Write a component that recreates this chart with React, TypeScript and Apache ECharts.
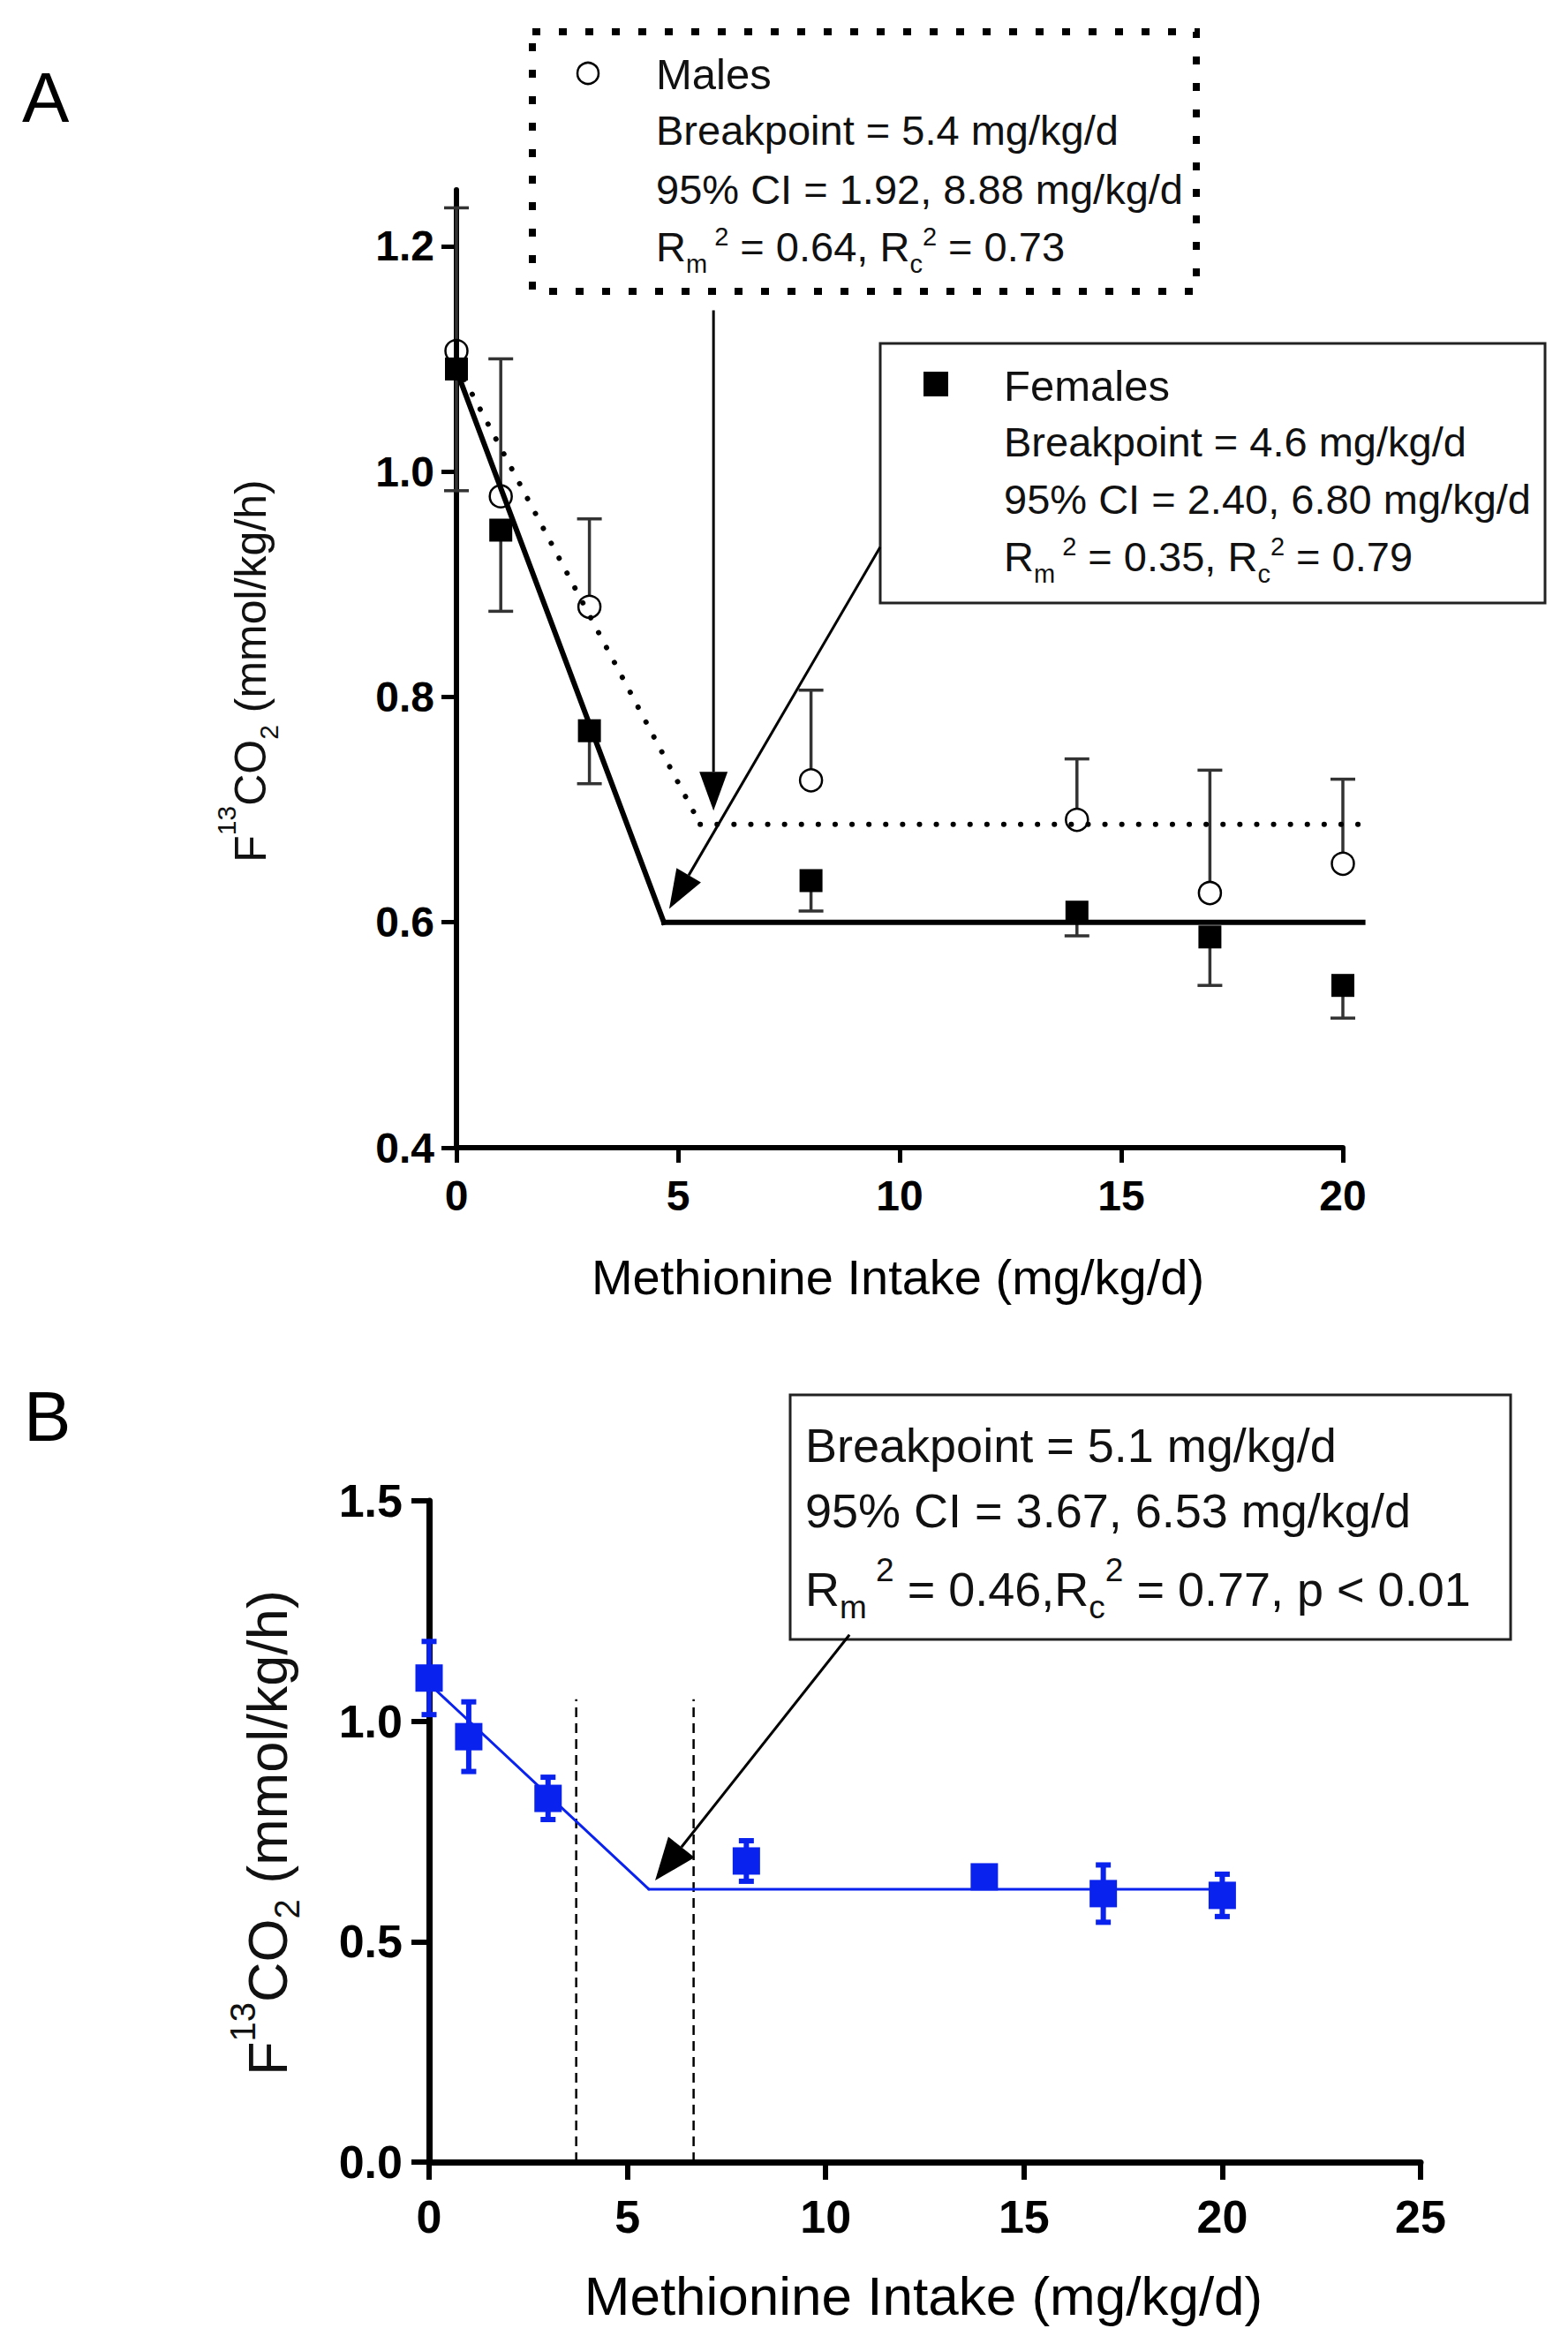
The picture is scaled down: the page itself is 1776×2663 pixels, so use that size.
import { useEffect, useRef } from 'react';
import * as echarts from 'echarts';

const FONT = '"Liberation Sans", Arial, Helvetica, sans-serif';
const INK = '#000';
const BLUE = '#0a22ee';

// ---- panel A: males vs females ----
const intake = [0, 1, 3, 8, 14, 17, 20];
const maleMean = [1.107, 0.978, 0.88, 0.726, 0.691, 0.626, 0.652];
const maleUpper = [1.234, 1.1, 0.958, 0.806, 0.745, 0.735, 0.727];
const femaleMean = [1.091, 0.948, 0.77, 0.637, 0.609, 0.587, 0.544];
const femaleLower = [0.983, 0.876, 0.723, 0.61, 0.588, 0.544, 0.515];
const maleFit = [[0, 1.095], [5.5, 0.687], [20.45, 0.687]];
const femaleFit = [[0, 1.09], [4.68, 0.6], [20.45, 0.6]];
const maleArrow = [5.8, 1.143, 5.8, 0.699];
const femaleArrow = [9.56, 0.933, 4.8, 0.612];
const yTicksA = [0.4, 0.6, 0.8, 1.0, 1.2];

// ---- panel B: pooled ----
const pooledMean = [1.098, 0.965, 0.825, 0.683, 0.647, 0.609, 0.605];
const pooledErr = [0.083, 0.079, 0.048, 0.046, 0.012, 0.065, 0.048];
const pooledFit = [[0, 1.085], [5.54, 0.619], [20, 0.619]];
const ciLimits = [3.71, 6.67];
const ciTop = 1.05;
const pooledArrow = [10.6, 1.196, 5.7, 0.639];

// box texts
const maleStats = ['Breakpoint = 5.4 mg/kg/d', '95% CI = 1.92, 8.88 mg/kg/d', ['0.64', '0.73']];
const femaleStats = ['Breakpoint = 4.6 mg/kg/d', '95% CI = 2.40, 6.80 mg/kg/d', ['0.35', '0.79']];
const pooledStats = ['Breakpoint = 5.1 mg/kg/d', '95% CI = 3.67, 6.53 mg/kg/d'];

// consecutive points -> [x1, y1, x2, y2] segments
const toSegments = (pts: number[][]) => pts.slice(1).map((p, i) => [pts[i][0], pts[i][1], p[0], p[1]]);

// vertical error bar, optional gap (px) at the mean end
function errorBars(color: string, width: number, capWidth: number, gap: number, bothCaps: boolean) {
  return (_p: any, api: any) => {
    const x = api.value(0);
    const from = api.coord([x, api.value(1)]);
    const to = api.coord([x, api.value(2)]);
    const dir = to[1] > from[1] ? 1 : -1;
    const style = { stroke: color, lineWidth: width };
    const children: any[] = [
      { type: 'line', shape: { x1: from[0], y1: from[1] + dir * gap, x2: to[0], y2: to[1] }, style },
      { type: 'line', shape: { x1: to[0] - capWidth / 2, y1: to[1], x2: to[0] + capWidth / 2, y2: to[1] }, style },
    ];
    if (bothCaps) {
      children.push({
        type: 'line',
        shape: { x1: from[0] - capWidth / 2, y1: from[1], x2: from[0] + capWidth / 2, y2: from[1] },
        style,
      });
    }
    return { type: 'group', children };
  };
}

// fit line segment (not clipped at the axis end)
function segment(style: any) {
  return (_p: any, api: any) => {
    const a = api.coord([api.value(0), api.value(1)]);
    const b = api.coord([api.value(2), api.value(3)]);
    return { type: 'line', shape: { x1: a[0], y1: a[1], x2: b[0], y2: b[1] }, style };
  };
}

function arrow(width: number, headLength: number, headWidth: number) {
  return (_p: any, api: any) => {
    const a = api.coord([api.value(0), api.value(1)]);
    const b = api.coord([api.value(2), api.value(3)]);
    const len = Math.hypot(b[0] - a[0], b[1] - a[1]);
    const ux = (b[0] - a[0]) / len;
    const uy = (b[1] - a[1]) / len;
    const bx = b[0] - ux * headLength;
    const by = b[1] - uy * headLength;
    const nx = (-uy * headWidth) / 2;
    const ny = (ux * headWidth) / 2;
    return {
      type: 'group',
      children: [
        { type: 'line', shape: { x1: a[0], y1: a[1], x2: bx, y2: by }, style: { stroke: INK, lineWidth: width } },
        {
          type: 'polygon',
          shape: { points: [[b[0], b[1]], [bx + nx, by + ny], [bx - nx, by - ny]] },
          style: { fill: INK },
        },
      ],
    };
  };
}

function dashedVLine(_p: any, api: any) {
  const a = api.coord([api.value(0), api.value(1)]);
  const b = api.coord([api.value(0), api.value(2)]);
  return {
    type: 'line',
    shape: { x1: a[0], y1: a[1], x2: b[0], y2: b[1] },
    style: { stroke: INK, lineWidth: 2.5, lineDash: [11, 7] },
  };
}

function text(x: number, y: number, str: string, fontSize: number, extra: any = {}) {
  return {
    type: 'text',
    x,
    y,
    silent: true,
    style: {
      text: str,
      fill: '#111',
      fontSize,
      fontFamily: FONT,
      align: 'left',
      verticalAlign: 'middle',
      ...extra,
    },
  };
}

// "Rm² = a, Rc² = b" with sub/superscripts
function rText(x: number, y: number, body: string, fs: number, sfs: number, L: number, hSup: number, hSub: number) {
  return {
    type: 'text',
    x,
    y,
    silent: true,
    style: {
      text: body,
      fill: '#111',
      fontSize: fs,
      fontFamily: FONT,
      align: 'left',
      verticalAlign: 'middle',
      rich: {
        n: { fontSize: fs, fontFamily: FONT, fill: '#111', lineHeight: L, verticalAlign: 'middle' },
        sup: { fontSize: sfs, fontFamily: FONT, fill: '#111', height: hSup, verticalAlign: 'top' },
        sub: { fontSize: sfs, fontFamily: FONT, fill: '#111', height: hSub, verticalAlign: 'bottom' },
      },
    },
  };
}

function yTitle(x: number, y: number, fs: number, sfs: number, L: number, hSup: number, hSub: number) {
  const t: any = rText(x, y, '{n|F}{sup|13}{n|CO}{sub|2}{n| (mmol/kg/h)}', fs, sfs, L, hSup, hSub);
  t.rotation = Math.PI / 2;
  t.style.align = 'center';
  return t;
}

const axisCommon = (lw: number, tickLen: number, tickW: number, fs: number, margin: number) => ({
  axisLine: { show: true, onZero: false, lineStyle: { color: INK, width: lw } },
  axisTick: { show: true, length: tickLen, lineStyle: { color: INK, width: tickW } },
  axisLabel: { color: INK, fontSize: fs, fontWeight: 'bold', fontFamily: FONT, margin },
  splitLine: { show: false },
});

export default function App() {
  const ref = useRef<HTMLDivElement>(null);

  useEffect(() => {
    document.body.style.margin = '0';
    if (!ref.current) return;
    const chart = echarts.init(ref.current, null, { renderer: 'svg' });

    const axA = axisCommon(6, 17, 5, 48, 28);
    const axB = axisCommon(7, 20, 6, 52, 34);

    const option: any = {
      animation: false,
      backgroundColor: '#fff',
      grid: [
        { left: 517, top: 215, width: 1004, height: 1085, outerBoundsMode: 'none' },
        { left: 486, top: 1700, width: 1123, height: 749, outerBoundsMode: 'none' },
      ],
      xAxis: [
        {
          type: 'value', gridIndex: 0, min: 0, max: 20, interval: 5, ...axA,
          axisLabel: { ...axA.axisLabel, margin: 30 },
        },
        {
          type: 'value', gridIndex: 1, min: 0, max: 25, interval: 5, ...axB,
          axisLabel: { ...axB.axisLabel, margin: 36 },
        },
      ],
      yAxis: [
        {
          type: 'value', gridIndex: 0, min: 0.4, max: 1.25, ...axA,
          axisTick: { ...axA.axisTick, customValues: yTicksA },
          axisLabel: { ...axA.axisLabel, margin: 25, customValues: yTicksA, formatter: (v: number) => v.toFixed(1) },
        },
        {
          type: 'value', gridIndex: 1, min: 0, max: 1.5, interval: 0.5, ...axB,
          axisLabel: { ...axB.axisLabel, margin: 30, formatter: (v: number) => v.toFixed(1) },
        },
      ],
      series: [
        // ---- panel A ----
        {
          type: 'custom', xAxisIndex: 0, yAxisIndex: 0, z: 2, clip: false,
          renderItem: errorBars('#333', 3.5, 28, 13, false),
          encode: { x: 0, y: [1, 2] },
          data: intake.map((x, i) => [x, maleMean[i], maleUpper[i]]),
        },
        {
          type: 'custom', xAxisIndex: 0, yAxisIndex: 0, z: 2, clip: false,
          renderItem: errorBars('#333', 3.5, 28, 0, false),
          encode: { x: 0, y: [1, 2] },
          data: intake.map((x, i) => [x, femaleMean[i], femaleLower[i]]),
        },
        {
          type: 'custom', xAxisIndex: 0, yAxisIndex: 0, z: 3, clip: false,
          renderItem: segment({ stroke: INK, lineWidth: 6, lineDash: [0.1, 19], lineCap: 'round' }),
          encode: { x: [0, 2], y: [1, 3] },
          data: toSegments(maleFit),
        },
        {
          type: 'custom', xAxisIndex: 0, yAxisIndex: 0, z: 3, clip: false,
          renderItem: segment({ stroke: INK, lineWidth: 6, lineCap: 'square' }),
          encode: { x: [0, 2], y: [1, 3] },
          data: toSegments(femaleFit),
        },
        {
          type: 'scatter', xAxisIndex: 0, yAxisIndex: 0, z: 4, silent: true,
          symbol: 'circle', symbolSize: 25,
          itemStyle: { color: 'rgba(0,0,0,0)', borderColor: INK, borderWidth: 2.5, opacity: 1 },
          data: intake.map((x, i) => [x, maleMean[i]]),
        },
        {
          type: 'scatter', xAxisIndex: 0, yAxisIndex: 0, z: 4, silent: true,
          symbol: 'rect', symbolSize: 26,
          itemStyle: { color: INK, opacity: 1 },
          data: intake.map((x, i) => [x, femaleMean[i]]),
        },
        {
          type: 'custom', xAxisIndex: 0, yAxisIndex: 0, z: 5, clip: false,
          renderItem: arrow(3, 44, 32),
          encode: { x: [0, 2], y: [1, 3] },
          data: [maleArrow, femaleArrow],
        },
        // ---- panel B ----
        {
          type: 'custom', xAxisIndex: 1, yAxisIndex: 1, z: 2, clip: false,
          renderItem: dashedVLine,
          encode: { x: 0, y: [1, 2] },
          data: ciLimits.map((x) => [x, 0, ciTop]),
        },
        {
          type: 'custom', xAxisIndex: 1, yAxisIndex: 1, z: 3, clip: false,
          renderItem: segment({ stroke: BLUE, lineWidth: 3, lineCap: 'round' }),
          encode: { x: [0, 2], y: [1, 3] },
          data: toSegments(pooledFit),
        },
        {
          type: 'custom', xAxisIndex: 1, yAxisIndex: 1, z: 3, clip: false,
          renderItem: errorBars(BLUE, 6, 17, 0, true),
          encode: { x: 0, y: [1, 2] },
          data: intake.map((x, i) => [x, pooledMean[i] - pooledErr[i], pooledMean[i] + pooledErr[i]]),
        },
        {
          type: 'scatter', xAxisIndex: 1, yAxisIndex: 1, z: 4, silent: true,
          symbol: 'rect', symbolSize: 31,
          itemStyle: { color: BLUE, opacity: 1 },
          data: intake.map((x, i) => [x, pooledMean[i]]),
        },
        {
          type: 'custom', xAxisIndex: 1, yAxisIndex: 1, z: 5, clip: false,
          renderItem: arrow(3, 48, 38),
          encode: { x: [0, 2], y: [1, 3] },
          data: [pooledArrow],
        },
      ],
      graphic: [
        // panel letters
        text(25, 110, 'A', 80, { fill: INK }),
        text(27, 1604, 'B', 80, { fill: INK }),
        // axis titles
        yTitle(284, 760, 50, 30, 64, 9, 24),
        text(1017, 1446, 'Methionine Intake (mg/kg/d)', 56, { align: 'center', fill: INK }),
        yTitle(303, 2076, 63, 40, 72, 16, 28),
        text(1046, 2600, 'Methionine Intake (mg/kg/d)', 62, { align: 'center', fill: INK }),
        // males box
        {
          type: 'rect', silent: true,
          shape: { x: 603, y: 36, width: 752, height: 294 },
          style: { fill: 'none', stroke: INK, lineWidth: 8, lineDash: [9, 21] },
        },
        { type: 'circle', silent: true, shape: { cx: 666, cy: 83, r: 12 }, style: { fill: 'none', stroke: INK, lineWidth: 2.5 } },
        text(743, 84, 'Males', 49),
        text(743, 147, maleStats[0] as string, 47),
        text(743, 214, maleStats[1] as string, 47),
        rText(743, 279, `{n|R}{sub|m}{sup| 2}{n| = ${maleStats[2][0]}, R}{sub|c}{sup|2}{n| = ${maleStats[2][1]}}`, 47, 29, 52, 30, 13),
        // females box
        {
          type: 'rect', silent: true,
          shape: { x: 997, y: 389, width: 753, height: 294 },
          style: { fill: 'none', stroke: '#222', lineWidth: 3 },
        },
        { type: 'rect', silent: true, shape: { x: 1046, y: 421, width: 28, height: 28 }, style: { fill: INK } },
        text(1137, 437, 'Females', 49),
        text(1137, 500, femaleStats[0] as string, 47),
        text(1137, 565, femaleStats[1] as string, 47),
        rText(1137, 630, `{n|R}{sub|m}{sup| 2}{n| = ${femaleStats[2][0]}, R}{sub|c}{sup|2}{n| = ${femaleStats[2][1]}}`, 47, 29, 52, 30, 13),
        // pooled box
        {
          type: 'rect', silent: true,
          shape: { x: 895, y: 1580, width: 816, height: 277 },
          style: { fill: '#fff', stroke: '#222', lineWidth: 3 },
        },
        text(912, 1637, pooledStats[0], 54),
        text(912, 1711, pooledStats[1], 54),
        rText(912, 1800, '{n|R}{sub|m}{sup| 2}{n| = 0.46,R}{sub|c}{sup|2}{n| = 0.77, p < 0.01}', 54, 37, 64, 20, 24),
      ],
    };

    chart.setOption(option);
    return () => chart.dispose();
  }, []);

  return <div ref={ref} style={{ width: 1776, height: 2663, background: '#fff' }} />;
}
